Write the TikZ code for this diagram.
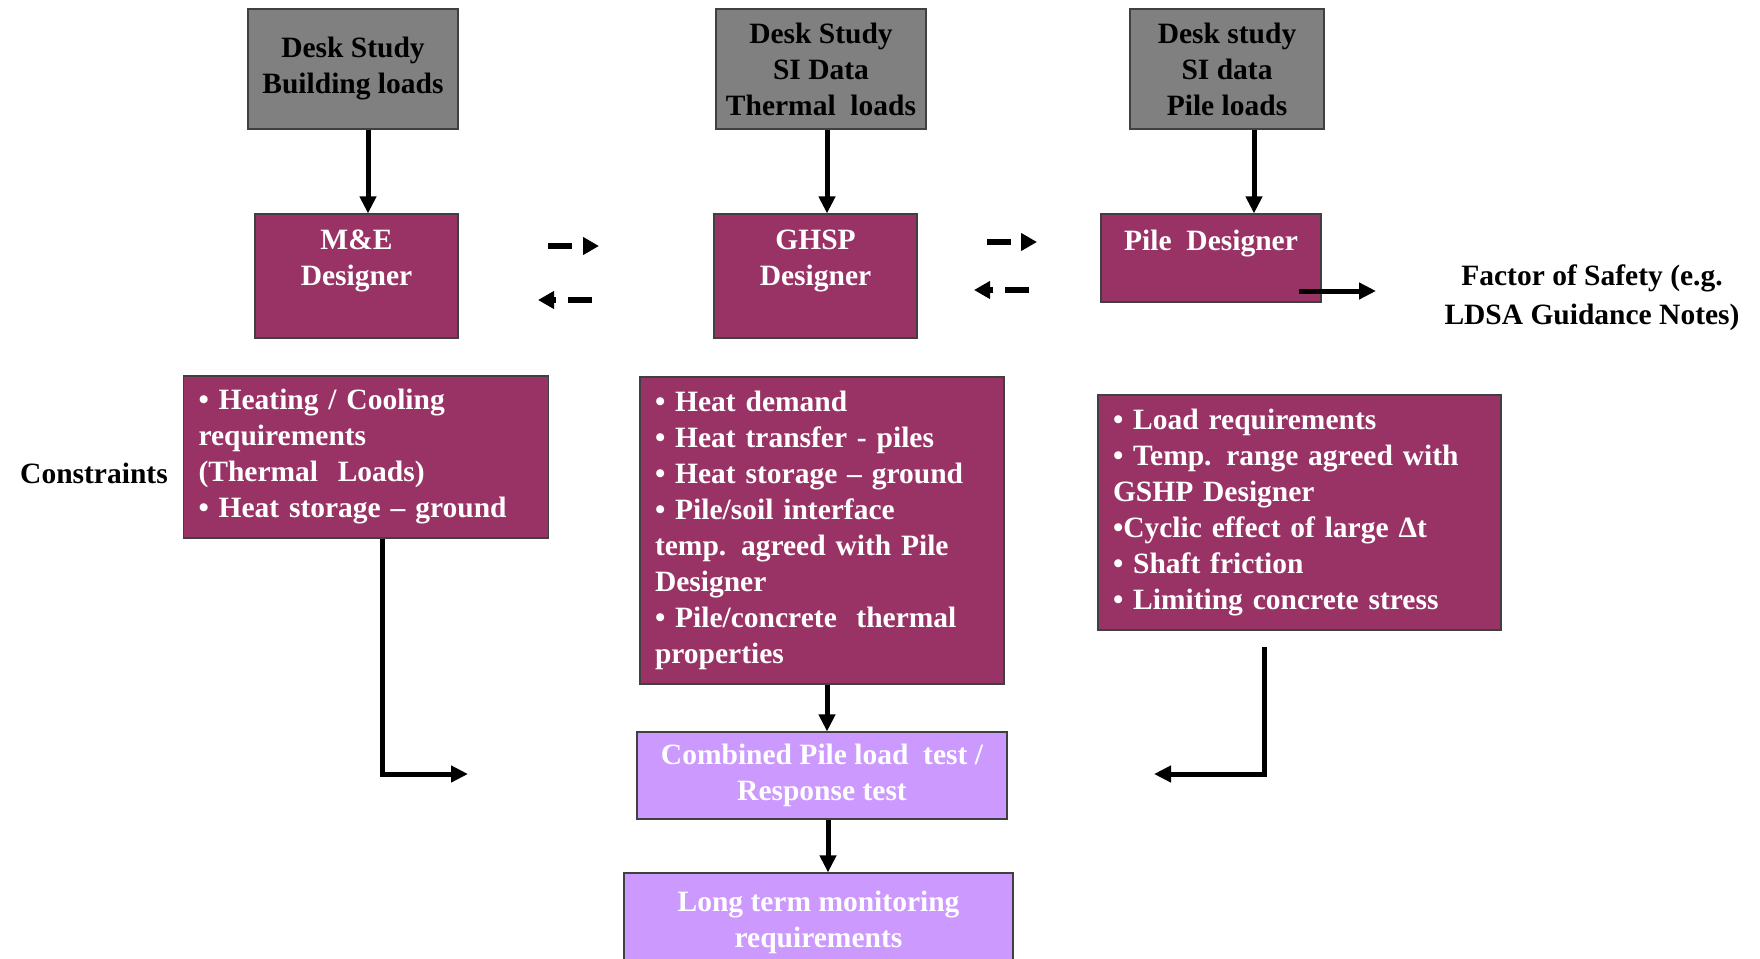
\documentclass[tikz,border=0pt]{standalone}
\usepackage{fontspec}
\setmainfont{Liberation Serif}
\usetikzlibrary{arrows.meta}
\definecolor{deskgrey}{HTML}{808080}
\definecolor{plum}{HTML}{993366}
\definecolor{lilac}{HTML}{CC99FF}
\begin{document}
\begin{tikzpicture}[x=1pt,y=-1pt,
  every node/.style={font=\fontsize{29.5}{36}\selectfont\bfseries},
  desk/.style={draw=black!75,line width=1.2pt,fill=deskgrey,align=center,inner sep=0pt},
  role/.style={draw=black!75,line width=1.2pt,fill=plum,text=white,align=center,inner sep=0pt},
  needs/.style={draw=black!75,line width=1.2pt,fill=plum,text=white,align=left,inner xsep=15pt,inner ysep=0pt},
  test/.style={draw=black!75,line width=1.2pt,fill=lilac,text=white,align=center,inner sep=0pt},
  flow/.style={line width=5pt,-{Triangle[length=17pt,width=16pt]}},
  swap/.style={line width=5.5pt,dash pattern=on 24pt off 12pt,-{Triangle[length=16pt,width=17pt]}}]
  \useasboundingbox (0,0) rectangle (1760,958);
  % desk studies
  \node[desk,minimum width=210pt,minimum height=120pt] (dsbuild) at (353,69) {Desk Study\\Building loads};
  \node[desk,minimum width=210pt,minimum height=120pt] (dsthermal) at (821,69) {Desk Study\\SI Data\\Thermal\ \ loads};
  \node[desk,minimum width=194pt,minimum height=120pt] (dspile) at (1227,69) {Desk study\\SI data\\Pile loads};
  % designers
  \node[role,minimum width=203pt,minimum height=124pt] (me) at (356.5,276) {M\&E\\Designer\\\mbox{}};
  \node[role,minimum width=203pt,minimum height=124pt] (ghsp) at (815.5,276) {GHSP\\Designer\\\mbox{}};
  \node[role,minimum width=220pt,minimum height=88pt] (piledes) at (1211,258) {Pile\ \ Designer\\\mbox{}};
  % constraints
  \node[needs,text width=335pt,minimum height=162pt] (mereq) at (366,457)
    {• Heating / Cooling\\requirements\\(Thermal\ \ Loads)\\• Heat storage – ground};
  \node[needs,text width=334pt,minimum height=307pt] (ghspreq) at (822,530.5)
    {• Heat demand\\• Heat transfer - piles\\• Heat storage – ground\\• Pile/soil interface\\temp. agreed with Pile\\Designer\\• Pile/concrete\ \ thermal\\properties};
  \node[needs,text width=373pt,minimum height=235pt] (pilereq) at (1299.5,512.5)
    {• Load requirements\\• Temp. range agreed with\\GSHP Designer\\•Cyclic effect of large Δt\\• Shaft friction\\• Limiting concrete stress};
  % tests
  \node[test,minimum width=370pt,minimum height=87pt] (combined) at (822,775.5) {Combined Pile load\ \ test /\\Response test};
  \node[test,minimum width=389pt,minimum height=98pt] (longterm) at (818.5,922) {Long term monitoring\\requirements};
  % side texts
  \node (constraints) at (94,473) {Constraints};
  \node[align=center,font=\fontsize{29.5}{39}\selectfont\bfseries] (safety) at (1592,298) {Factor of Safety (e.g.\\LDSA Guidance Notes)};
  % arrows
  \foreach \src/\dst/\xx in {dsbuild/me/368, dsthermal/ghsp/827, dspile/piledes/1254, ghspreq/combined/827, combined/longterm/828}
    \draw[flow] (\src.south -| \xx,0) -- (\dst.north -| \xx,0);
  \coordinate (meend) at (468,774);
  \draw[flow] (mereq.south -| 382,0) |- (meend);
  \coordinate (pilestart) at (1264,647);
  \coordinate (pileend) at (1154,774);
  \draw[flow] (pilestart) |- (pileend);
  \coordinate (fosstart) at (1299,291);
  \coordinate (fosend) at (1376,291);
  \draw[flow] (fosstart) -- (fosend);
  \foreach \n/\xa/\xb/\yy in {a/548/599/246, b/592/538/300, c/987/1037/242, d/1029/974/290} {
    \coordinate (swap\n-from) at (\xa,\yy);
    \coordinate (swap\n-to) at (\xb,\yy);
    \draw[swap] (swap\n-from) -- (swap\n-to);
  }
\end{tikzpicture}
\end{document}
